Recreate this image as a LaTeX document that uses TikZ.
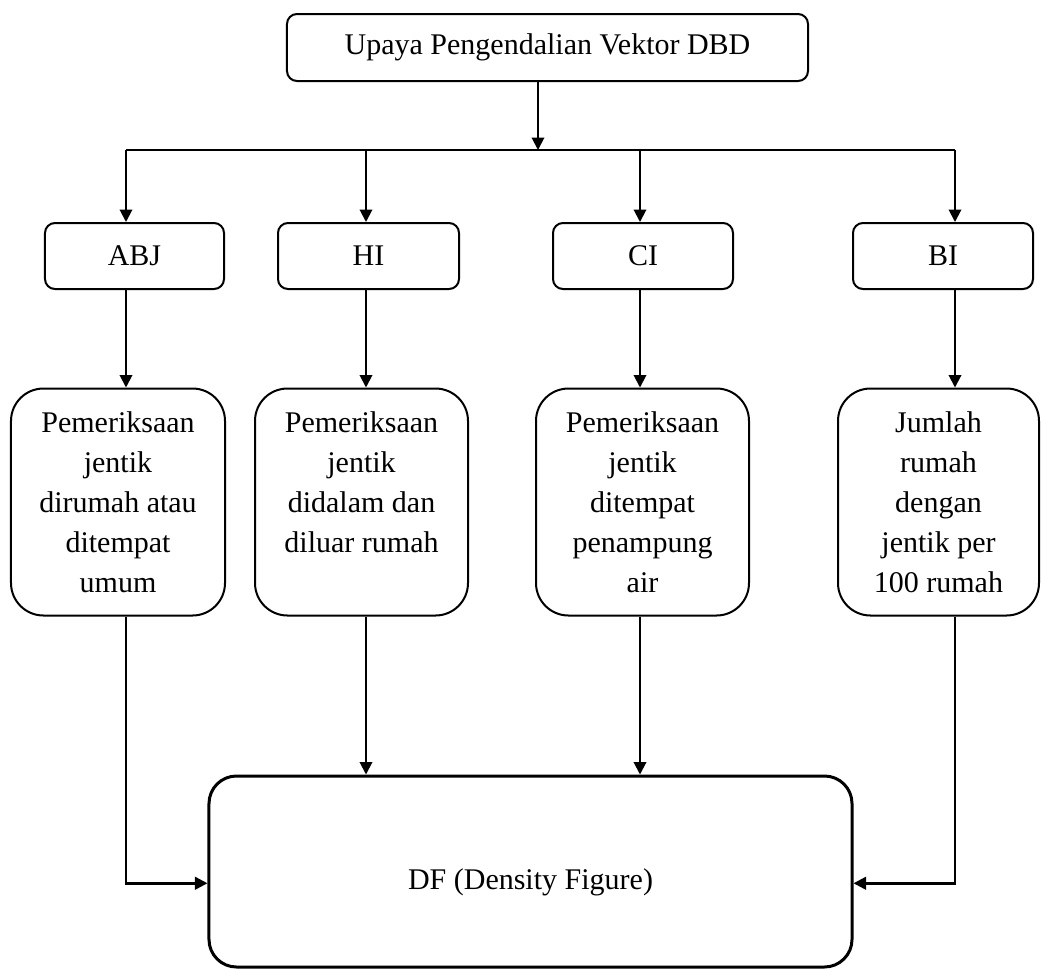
\documentclass[tikz,border=0pt]{standalone}
\usepackage{fontspec}
\setmainfont{Liberation Serif}
\usepackage{tikz}
\usetikzlibrary{positioning, arrows.meta}
\tikzset{
    basebox/.style={draw, line width=0.8pt, align=center, font=\fontsize{12}{16}\selectfont},
    headbox/.style={basebox, rounded corners=4pt, minimum width=208.4pt, minimum height=26.8pt},
    idxbox/.style={basebox, rounded corners=4pt, minimum height=26.4pt},
    descbox/.style={basebox, rounded corners=13pt, minimum height=90.8pt},
    dfbox/.style={basebox, line width=1.2pt, rounded corners=11pt, minimum width=257.2pt, minimum height=76.4pt, text height=14pt, text depth=0pt},
    arr/.style={-{Triangle[length=5pt,width=5pt]}, line width=0.8pt}
}

\begin{document}
\begin{tikzpicture}[x=0.4pt, y=-0.4pt]
                    \useasboundingbox (0,0) rectangle (1041,968);

                    % columns of the connectors
                    \coordinate (cA) at (126,0);
                    \coordinate (cH) at (366,0);
                    \coordinate (cC) at (640,0);
                    \coordinate (cB) at (955,0);
                    \coordinate (split) at (538,150);

                    \node[headbox] (top) at (547.5,47.5) {Upaya Pengendalian Vektor DBD};

                    \node[idxbox, minimum width=71.6pt] (sA) at (134.5,256) {ABJ};
                    \node[idxbox, minimum width=72.4pt] (sH) at (368.5,256) {HI};
                    \node[idxbox, minimum width=72pt] (sC) at (643,256) {CI};
                    \node[idxbox, minimum width=72pt] (sB) at (943,256) {BI};

                    \node[descbox, minimum width=85.6pt] (bA) at (118,502) {Pemeriksaan\\jentik\\dirumah atau\\ditempat\\umum};
                    \node[descbox, minimum width=85.2pt] (bH) at (361.5,502) {Pemeriksaan\\jentik\\didalam dan\\diluar rumah\\~};
                    \node[descbox, minimum width=85.2pt] (bC) at (642.5,502) {Pemeriksaan\\jentik\\ditempat\\penampung\\air};
                    \node[descbox, minimum width=80.4pt] (bB) at (938.5,502) {Jumlah\\rumah\\dengan\\jentik per\\100 rumah};

                    \node[dfbox] (df) at (530.5,871.5) {DF (Density Figure)};

                    \draw[arr] (top.south -| split) -- (split);
                    \draw[line width=0.8pt] (cA |- split) -- (cB |- split);
                    \draw[arr] (cA |- split) -- (sA.north -| cA);
                    \draw[arr] (cH |- split) -- (sH.north -| cH);
                    \draw[arr] (cC |- split) -- (sC.north -| cC);
                    \draw[arr] (cB |- split) -- (sB.north -| cB);

                    \draw[arr] (sA.south -| cA) -- (bA.north -| cA);
                    \draw[arr] (sH.south -| cH) -- (bH.north -| cH);
                    \draw[arr] (sC.south -| cC) -- (bC.north -| cC);
                    \draw[arr] (sB.south -| cB) -- (bB.north -| cB);

                    \draw[arr, line width=1pt] (bA.south -| cA) |- (df.mid west);
                    \draw[arr] (bH.south -| cH) -- (df.north -| cH);
                    \draw[arr] (bC.south -| cC) -- (df.north -| cC);
                    \draw[arr, line width=1pt] (bB.south -| cB) |- (df.mid east);
                \end{tikzpicture}
\end{document}
